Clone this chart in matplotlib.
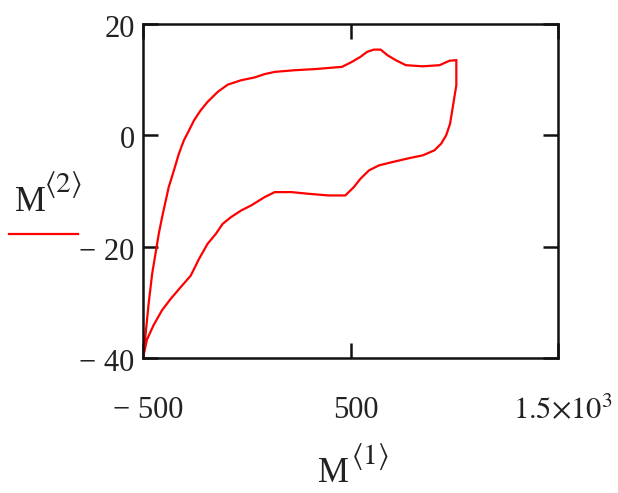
import matplotlib
matplotlib.use("Agg")
import matplotlib.pyplot as plt
from matplotlib.lines import Line2D
from matplotlib.transforms import ScaledTranslation

plt.rcParams['mathtext.fontset'] = 'stix'
plt.rcParams['font.family'] = ['Liberation Serif', 'DejaVu Serif']

# Data: M<1> (x) and M<2> (y), a closed loop
m1 = [-500, -489, -473, -456, -440, -424, -408, -392, -376, -351, -327, -303, -278,
      -254, -222, -189, -140, -92, -27, 38, 86, 135, 232, 329, 426, 459, 507, 548,
      580, 613, 645, 678, 718, 767, 848, 929, 977, 1010,
      1010, 993, 980, 961, 937, 904, 848, 783, 702, 637, 589, 548, 516, 475,
      394, 297, 216, 135, 86, 21, -27, -76, -116, -149, -189, -230, -270, -319,
      -367, -408, -449, -481, -500]
m2 = [-40, -36.3, -30.3, -24.9, -21.3, -17.7, -14.7, -12.0, -9.3, -6.3, -3.3, -0.9, 0.9,
      2.7, 4.5, 6.0, 7.8, 9.1, 9.9, 10.4, 11.0, 11.4, 11.7, 11.9, 12.2, 12.3, 13.2, 14.1,
      15.0, 15.4, 15.4, 14.4, 13.5, 12.6, 12.4, 12.6, 13.4, 13.5,
      9.0, 5.1, 2.1, 0.0, -1.5, -2.7, -3.6, -4.1, -4.8, -5.4, -6.3, -7.8, -9.3, -10.8,
      -10.8, -10.5, -10.2, -10.2, -11.1, -12.6, -13.5, -14.7, -15.9, -17.7, -19.5, -22.2,
      -25.2, -27.3, -29.4, -31.4, -34.1, -36.7, -40]

xticks = [-500, 500, 1500]
xticklabels = ['\u2212 500', '500', r'$1.5{\times}10^{3}$']
yticks = [-40, -20, 0, 20]
yticklabels = ['\u2212 40', '\u2212 20', '0', '20']

W, H = 618, 493
fig = plt.figure(figsize=(W / 100, H / 100), dpi=100)
ax = fig.add_axes([143 / W, 1 - 358 / H, (558 - 143) / W, (358 - 24) / H])

ax.plot(m1, m2, color='#ff0000', lw=1.6, solid_joinstyle='miter')
ax.set_xlim(-500, 1500)
ax.set_ylim(-40, 20)

ax.set_xticks(xticks)
ax.set_xticklabels(xticklabels)
ax.set_yticks(yticks)
ax.set_yticklabels(yticklabels)

for s in ax.spines.values():
    s.set_linewidth(1.8)
    s.set_color('#111111')

ax.tick_params(axis='both', direction='in', length=10.8, width=1.8, color='#111111',
               labelsize=22, labelcolor='#222222', top=True, right=True)
ax.tick_params(axis='x', pad=27)
ax.tick_params(axis='y', pad=6)

shift = ScaledTranslation(5 / 100, 0, fig.dpi_scale_trans)
for lab in ax.get_xticklabels():
    lab.set_transform(lab.get_transform() + shift)
shift_y = ScaledTranslation(0, -2 / 100, fig.dpi_scale_trans)
for lab in ax.get_yticklabels():
    lab.set_transform(lab.get_transform() + shift_y)

# axis titles (Mathcad style)
fig.text(318 / W, 1 - 482 / H, 'M', fontsize=25, color='#222222', ha='left', va='baseline')
fig.text(351 / W, 1 - 464 / H, r'$\langle\mathrm{1}\rangle$', fontsize=21, color='#222222',
         ha='left', va='baseline')

fig.text(15 / W, 1 - 211 / H, 'M', fontsize=25, color='#222222', ha='left', va='baseline')
fig.text(44 / W, 1 - 192 / H, r'$\langle\mathrm{2}\rangle$', fontsize=21, color='#222222',
         ha='left', va='baseline')
fig.add_artist(Line2D([9 / W, 78 / W], [1 - 234 / H, 1 - 234 / H], color='#ff0000', lw=1.6,
                      transform=fig.transFigure))

fig.savefig('out.png', dpi=100)
